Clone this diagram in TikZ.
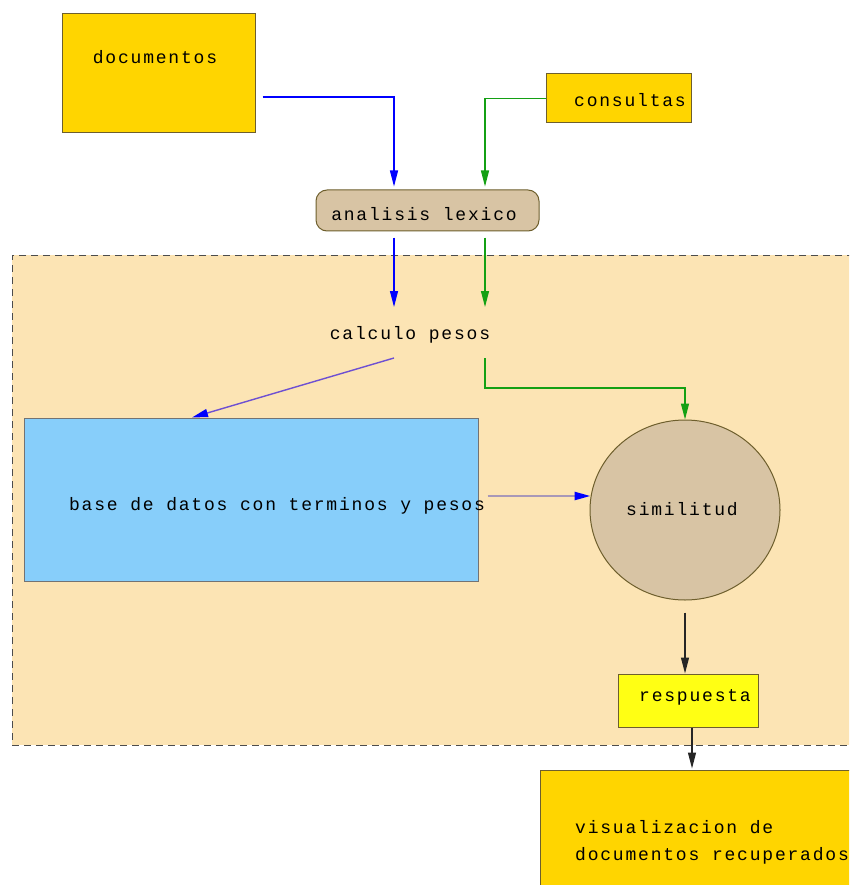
\documentclass[tikz,border=0pt]{standalone}
\usepackage{fontspec}
\usetikzlibrary{arrows.meta,shapes.geometric}
\newfontfamily\diagfont[LetterSpace=10]{Liberation Mono}
\definecolor{gold}{RGB}{255,213,0}
\definecolor{tan}{RGB}{216,196,164}
\definecolor{zonefill}{RGB}{252,228,180}
\definecolor{skyfill}{RGB}{135,206,250}
\definecolor{respfill}{RGB}{255,255,20}
\definecolor{edge}{RGB}{110,95,45}
\definecolor{arrgreen}{RGB}{20,160,20}
\definecolor{arrpurple}{RGB}{110,80,210}
\definecolor{arrgray}{RGB}{168,152,184}
\tikzset{
  box/.style={draw=edge, line width=1pt, rectangle, inner sep=0pt},
  txt/.style={font=\diagfont\fontsize{18}{22}\selectfont, inner sep=0pt, text=black},
  tip/.style={-{Triangle[length=16pt,width=8pt]}},
  bluearr/.style={tip, draw=blue, line width=1.2pt},
  greenarr/.style={tip, draw=arrgreen, line width=1.2pt},
  blackarr/.style={tip, draw=black!85, line width=1.2pt},
}
\begin{document}
\begin{tikzpicture}[x=1pt,y=-1pt]
\useasboundingbox (0,0) rectangle (849,885);
\clip (0,0) rectangle (849,885);
\fill[white] (0,0) rectangle (849,885);
% zone
\node (zone) [draw=black!70, dash pattern=on 7pt off 5pt, fill=zonefill, line width=1pt, rectangle, inner sep=0pt,
  minimum width=860pt, minimum height=490pt] at (442,500) {};
% boxes
\node (doc) [box, fill=gold, minimum width=193pt, minimum height=119pt] at (158.5,73.5) {};
\node (doct) [txt] at (155,57) {documentos};
\node (cons) [box, fill=gold, minimum width=145pt, minimum height=49pt] at (618.5,98.5) {};
\node (const) [txt] at (630,100) {consultas};
\node (ana) [box, fill=tan, rounded corners=11pt, minimum width=223pt, minimum height=41pt] at (427.5,210.5) {};
\node (anat) [txt] at (424,214) {analisis lexico};
\node (calc) [txt] at (410,335) {calculo pesos};
\node (base) [box, fill=skyfill, draw=black!55, minimum width=454pt, minimum height=163pt] at (251,499.5) {};
\node (baset) [txt] at (277,506) {base de datos con terminos y pesos};
\node (sim) [draw=edge, fill=tan, line width=1pt, ellipse, inner sep=0pt,
  minimum width=190pt, minimum height=180pt] at (685,510) {};
\node (simt) [txt] at (682,509) {similitud};
\node (resp) [box, fill=respfill, minimum width=140pt, minimum height=53pt] at (688,700.5) {};
\node (respt) [txt] at (695,697) {respuesta};
\node (vis) [box, fill=gold, minimum width=360pt, minimum height=160pt] at (720,850) {};
\node (vist) [txt, anchor=west, align=left] at (575,842) {visualizacion de\\[5pt]documentos recuperados};
% connectors
\draw[bluearr] ([shift={(7,23.5)}]doc.east) -| ([shift={(-33.5,-3)}]ana.north);
\draw[greenarr] (cons.west) -| ([shift={(57.5,-3)}]ana.north);
\draw[bluearr] ([shift={(-33.5,6)}]ana.south) -- ([shift={(-16,-28)}]calc.center);
\draw[greenarr] ([shift={(57.5,6)}]ana.south) -- ([shift={(75,-28)}]calc.center);
\draw[-{Triangle[length=16pt,width=8pt,color=blue]}, draw=arrpurple, line width=1.4pt] ([shift={(-16,23)}]calc.center) -- ([shift={(-59,0)}]base.north);
\draw[greenarr] ([shift={(75,23)}]calc.center) -- ++(0,30) -| (sim.north);
\draw[-{Triangle[length=16pt,width=8pt,color=blue]}, draw=arrgray, line width=2.4pt] ([shift={(9,-3.5)}]base.east) -- ([shift={(1,-14)}]sim.west);
\draw[blackarr] ([shift={(0,12)}]sim.south) -- ([shift={(-3,0)}]resp.north);
\draw[blackarr] ([shift={(4,0)}]resp.south) -- ([shift={(-28,-1)}]vis.north);
\end{tikzpicture}
\end{document}
